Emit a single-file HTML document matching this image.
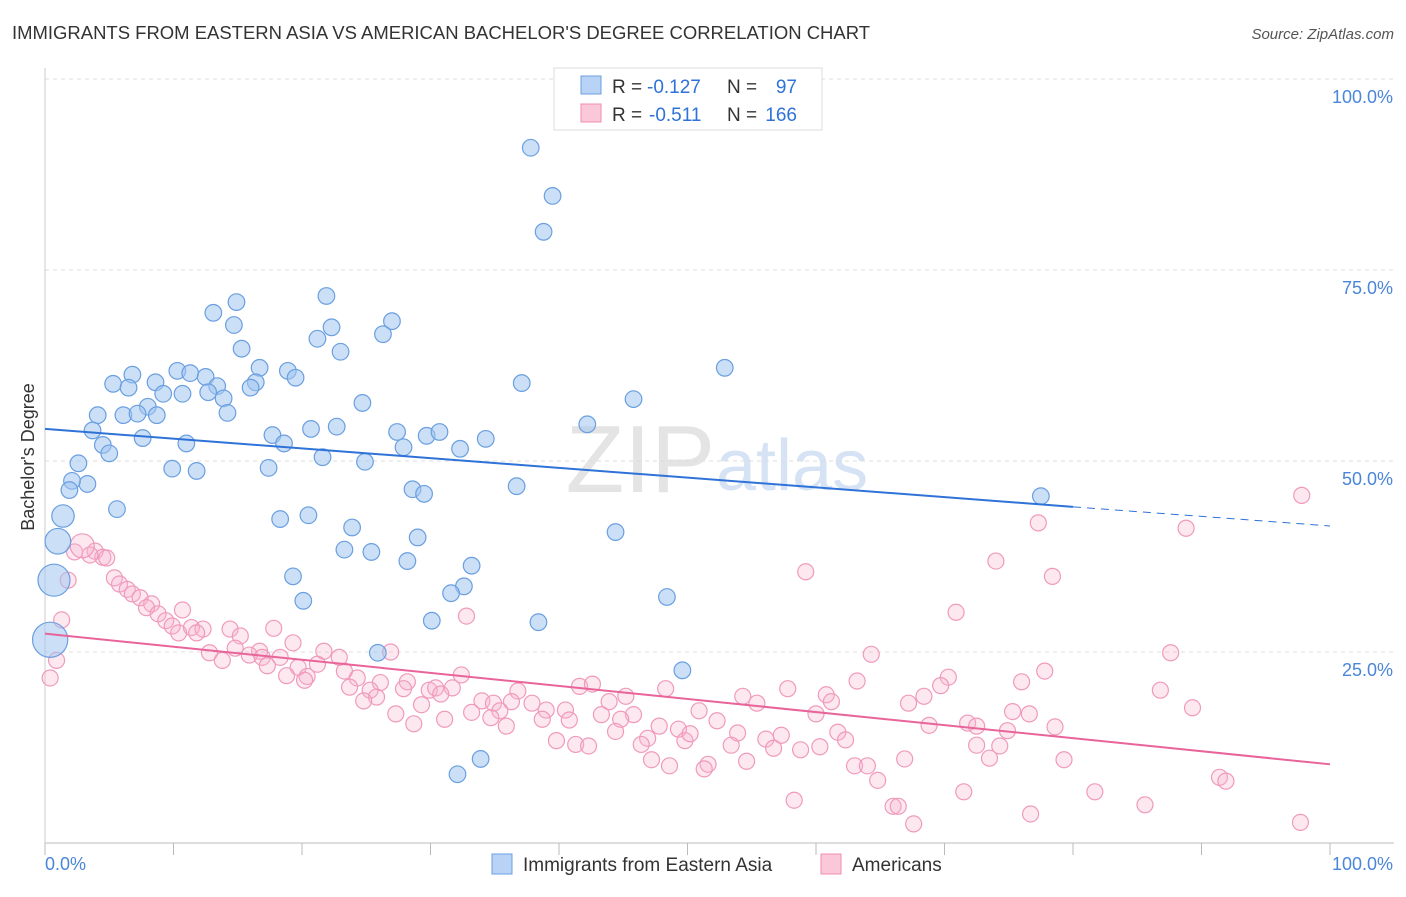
<!DOCTYPE html>
<html><head><meta charset="utf-8">
<style>
body{margin:0;background:#fff;font-family:"Liberation Sans",sans-serif;}
svg text{font-family:"Liberation Sans",sans-serif;}
</style></head>
<body>
<svg id="chart" width="1406" height="892" viewBox="0 0 1406 892">
<text x="12" y="39" font-size="18.6" fill="#333" textLength="858" lengthAdjust="spacingAndGlyphs">IMMIGRANTS FROM EASTERN ASIA VS AMERICAN BACHELOR'S DEGREE CORRELATION CHART</text>
<text x="1394" y="39" font-size="15" fill="#555" text-anchor="end" font-style="italic">Source: ZipAtlas.com</text>
<text x="715" y="492" font-size="96" fill="#e4e4e4" text-anchor="end" font-family="Liberation Serif">ZIP</text>
<text x="716" y="490" font-size="72" fill="#d5e3f5">atlas</text>
<g id="grid"></g>
<g id="axes"></g>
<g id="marks"></g>
<text transform="translate(34,457) rotate(-90)" font-size="18" fill="#333" text-anchor="middle">Bachelor's Degree</text>
<g>
<rect x="554" y="68" width="268" height="62" fill="#fff" stroke="#ddd"/>
<rect x="581" y="76" width="20" height="18" fill="#b8d3f5" stroke="#6a9fe0"/>
<rect x="581" y="104" width="20" height="18" fill="#fbc8da" stroke="#f08cb0"/>
<text x="612" y="93" font-size="19" fill="#333">R =</text>
<text x="647" y="93" font-size="19" fill="#2f72d8">-0.127</text>
<text x="727" y="93" font-size="19" fill="#333">N =</text>
<text x="797" y="93" font-size="19" fill="#2f72d8" text-anchor="end">97</text>
<text x="612" y="121" font-size="19" fill="#333">R =</text>
<text x="649" y="121" font-size="19" fill="#2f72d8">-0.511</text>
<text x="727" y="121" font-size="19" fill="#333">N =</text>
<text x="797" y="121" font-size="19" fill="#2f72d8" text-anchor="end">166</text>
</g>
<g>
<rect x="492" y="854" width="20" height="20" fill="#b8d3f5" stroke="#6a9fe0"/>
<text x="523" y="871" font-size="19" fill="#333">Immigrants from Eastern Asia</text>
<rect x="821" y="854" width="20" height="20" fill="#fbc8da" stroke="#f08cb0"/>
<text x="852" y="871" font-size="19" fill="#333">Americans</text>
</g>
</svg>
<script>
const yTicks=[25,50,75,100];
const yTickLabels=["25.0%","50.0%","75.0%","100.0%"];
const xTicks=[0,10,20,30,40,50,60,70,80,90,100];
const blueX=[37.8,39.5,38.8,21.9,14.9,13.1,14.7,27.0,22.3,26.3,21.2,15.3,23.0,52.9,16.7,18.9,6.8,10.3,11.3,12.5,16.4,19.5,5.3,8.6,13.4,16.0,37.1,6.5,9.2,10.7,12.7,13.9,45.8,24.7,8.0,4.1,6.1,7.2,8.7,14.2,42.2,3.7,7.6,20.7,22.7,17.7,27.4,29.7,30.7,34.3,11.0,4.5,18.6,27.9,32.3,5.0,21.6,24.9,2.6,9.9,11.8,17.4,3.3,2.1,1.9,36.7,28.6,29.5,77.5,5.6,20.5,18.3,23.9,44.4,29.0,23.3,25.4,28.2,33.2,19.3,32.6,31.6,48.4,20.1,30.1,38.4,25.9,49.6,33.9,32.1];
const blueY=[91.0,84.7,80.0,71.6,70.8,69.4,67.8,68.3,67.5,66.6,66.0,64.7,64.3,62.2,62.2,61.8,61.3,61.8,61.5,61.0,60.3,60.9,60.1,60.3,59.8,59.6,60.2,59.6,58.8,58.8,59.0,58.2,58.1,57.6,57.1,56.0,56.0,56.2,56.0,56.3,54.8,54.0,53.0,54.2,54.5,53.4,53.8,53.3,53.8,52.9,52.3,52.1,52.3,51.8,51.6,51.0,50.5,49.9,49.7,49.0,48.7,49.1,47.0,47.4,46.2,46.7,46.3,45.7,45.4,43.7,42.9,42.4,41.3,40.7,40.0,38.4,38.1,36.9,36.3,34.9,33.6,32.7,32.2,31.7,29.1,28.9,24.9,22.6,11.0,9.0];
const blueBigX=[1.4,1.0,0.7,0.4];
const blueBigY=[42.8,39.5,34.4,26.6];
const blueBigW=[1.4,1.6,2.0,2.2];
const pinkX=[97.8,88.8,77.3,2.3,3.9,4.5,3.5,4.8,74.0,59.2,78.4,1.8,5.4,5.8,6.4,6.8,7.4,8.3,7.9,10.7,8.8,70.9,32.8,1.3,9.4,9.9,11.4,12.3,14.4,17.8,10.4,11.8,15.2,19.3,12.8,14.8,16.7,15.9,16.9,13.8,21.7,22.9,26.9,18.3,64.3,87.6,0.9,17.3,21.2,19.7,23.3,18.8,20.4,24.3,20.2,32.4,77.8,0.4,26.1,28.2,63.2,70.3,76.0,41.6,42.6,23.7,25.3,27.9,29.9,30.4,31.7,36.8,48.3,57.8,69.7,86.8,25.8,30.8,45.2,54.3,60.8,68.4,24.8,34.0,34.9,36.3,37.9,43.9,55.4,61.2,67.2,89.3,27.3,29.3,33.2,35.4,39.0,40.5,43.3,45.8,50.9,60.0,75.3,76.6,31.1,34.7,38.7,40.8,44.8,52.3,71.8,28.7,35.9,47.8,49.3,61.7,68.8,72.5,78.6,44.4,53.9,57.3,74.9,46.9,49.8,50.2,56.1,62.3,39.8,41.3,42.3,46.4,53.4,56.7,58.8,60.3,72.5,74.3,47.2,48.6,51.6,54.6,63.0,64.0,66.9,73.5,79.3,51.3,64.8,91.4,91.9,71.5,81.7,58.3,66.0,66.4,85.6,76.7,67.6,97.7];
const pinkY=[45.5,41.2,41.9,38.1,38.2,37.4,37.7,37.3,36.9,35.5,34.9,34.4,34.7,33.9,33.2,32.6,32.1,31.3,30.8,30.5,30.0,30.2,29.7,29.2,29.1,28.4,28.2,28.0,28.0,28.1,27.5,27.5,27.1,26.2,24.9,25.5,25.1,24.6,24.3,23.9,25.1,24.3,25.0,24.3,24.7,24.9,23.9,23.2,23.4,23.0,22.5,21.9,21.8,21.6,21.3,22.0,22.5,21.6,21.0,21.1,21.2,21.7,21.1,20.5,20.8,20.4,20.0,20.2,20.0,20.3,20.3,19.9,20.2,20.2,20.6,20.0,19.1,19.5,19.2,19.2,19.4,19.2,18.6,18.6,18.3,18.5,18.3,18.5,18.3,18.5,18.3,17.7,16.9,18.1,17.1,17.3,17.4,17.4,16.8,16.8,17.3,16.9,17.2,16.9,16.2,16.4,16.2,16.1,16.2,16.0,15.7,15.6,15.3,15.3,14.9,14.5,15.4,15.3,15.2,14.6,14.4,14.1,14.7,13.7,13.4,14.3,13.6,13.5,13.4,12.9,12.7,12.9,12.8,12.4,12.2,12.6,12.8,12.7,10.9,10.1,10.3,10.7,10.1,10.1,11.0,11.1,10.9,9.7,8.2,8.6,8.1,6.7,6.7,5.6,4.8,4.8,5.0,3.8,2.5,2.7];
const pinkBigX=[2.9];
const pinkBigY=[38.9];
const blueTrend=[54.2,44.0,41.5];
const pinkTrend=[27.4,10.3];

const NS="http://www.w3.org/2000/svg";
const X0=45,X1=1330,Y0=843,Y100=79;
const sx=v=>X0+(X1-X0)*v/100;
const sy=v=>Y0-(Y0-Y100)*v/100;
function mk(tag,attrs,parent){const e=document.createElementNS(NS,tag);for(const k in attrs)e.setAttribute(k,attrs[k]);parent.appendChild(e);return e;}
const grid=document.getElementById('grid'),axes=document.getElementById('axes'),marks=document.getElementById('marks');
yTicks.forEach((t,i)=>{
 const g=mk('line',{x1:X0,x2:1394,y1:sy(t),y2:sy(t),stroke:'#ddd','stroke-dasharray':'4,4'},grid);
 
 
 const l=mk('text',{x:1393,y:sy(t)+24,'font-size':18,fill:'#4a86d8','text-anchor':'end'},axes);
 l.textContent=yTickLabels[i];
 
 
});
const ax=mk('line',{x1:X0,x2:1394,y1:Y0,y2:Y0,stroke:'#bbb'},axes);


const ay=mk('line',{x1:X0,x2:X0,y1:68,y2:Y0,stroke:'#ccc'},axes);


xTicks.forEach(t=>{
 const k=mk('line',{x1:sx(t),x2:sx(t),y1:Y0,y2:Y0+12,stroke:'#bbb'},axes);
 
 
});
const xl0=mk('text',{x:45,y:870,'font-size':18,fill:'#4a86d8'},axes);xl0.textContent='0.0%';


const xl1=mk('text',{x:1393,y:870,'font-size':18,fill:'#4a86d8','text-anchor':'end'},axes);xl1.textContent='100.0%';



function dot(x,y,r,fill,stroke,name){
 const c=mk('circle',{cx:sx(x),cy:sy(y),r:r,fill:fill,stroke:stroke,'stroke-width':1.2},marks);
 
 
}
const PF='rgba(248,180,205,0.3)',PS='#f09abb',BF='rgba(160,196,240,0.55)',BS='#6a9fe0';
pinkX.forEach((x,i)=>dot(x,pinkY[i],8,PF,PS,'pink-point'));
pinkBigX.forEach((x,i)=>dot(x,pinkBigY[i],12,PF,PS,'pink-point-large'));
blueX.forEach((x,i)=>dot(x,blueY[i],8.3,BF,BS,'blue-point'));
blueBigX.forEach((x,i)=>dot(x,blueBigY[i],8*blueBigW[i],BF,BS,'blue-point-large'));
const bl=mk('line',{x1:sx(0),y1:sy(blueTrend[0]),x2:sx(80),y2:sy(blueTrend[1]),stroke:'#2f72d8','stroke-width':2},marks);


const bd=mk('line',{x1:sx(80),y1:sy(blueTrend[1]),x2:sx(100),y2:sy(blueTrend[2]),stroke:'#2f72d8','stroke-width':1,'stroke-dasharray':'8,6'},marks);


const pl=mk('line',{x1:sx(0),y1:sy(pinkTrend[0]),x2:sx(100),y2:sy(pinkTrend[1]),stroke:'#e8649a','stroke-width':2},marks);


</script>
</body></html>
